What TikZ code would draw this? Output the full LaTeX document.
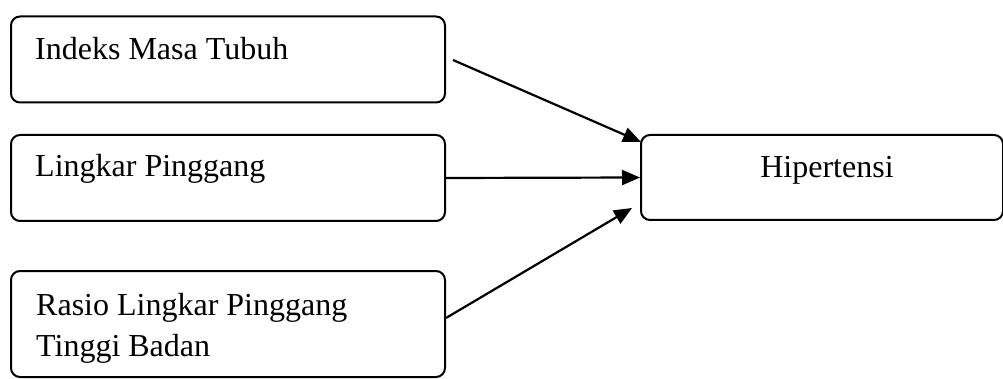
\documentclass[tikz,border=0pt]{standalone}
\usepackage{fontspec}
\setmainfont{Liberation Serif}
\usetikzlibrary{arrows.meta}
\begin{document}
\begin{tikzpicture}[x=1pt,y=-1pt,
  box/.style={draw=black, line width=2pt, rounded corners=9pt, inner sep=0pt},
  lbl/.style={anchor=base west, inner sep=0pt, font=\fontsize{32}{41}\selectfont},
  link/.style={draw=black, line width=2.2pt, -{Triangle[length=18pt,width=15pt]}}]
  \useasboundingbox (0,0) rectangle (1003,379);
  % source boxes
  \node[box, minimum width=434pt, minimum height=86pt] (imt) at (228,59.5) {};
  \node[box, minimum width=434pt, minimum height=86pt] (lp)  at (228,178) {};
  \node[box, minimum width=434pt, minimum height=106pt] (rlp) at (228,324) {};
  % outcome box
  \node[box, minimum width=362pt, minimum height=85pt] (hip) at (822,177.5) {};
  % labels
  \node[lbl] (timt) at (35,60) {Indeks Masa Tubuh};
  \node[lbl] (tlp)  at (35,177) {Lingkar Pinggang};
  \node[lbl] (trlp) at (36,315) {Rasio Lingkar Pinggang};
  \node[lbl] (trlp2) at (36,356) {Tinggi Badan};
  \node[anchor=base, inner sep=0pt, font=\fontsize{32}{41}\selectfont] (thip) at (827,178) {Hipertensi};
  % connectors
  \coordinate (s1) at (453,60);
  \coordinate (e1) at (641,142);
  \coordinate (e3) at (632,208);
  \draw[link] (s1) -- (e1);
  \draw[link] (lp.east) -- (hip.west);
  \draw[link] (rlp.east |- 0,318) -- (e3);
\end{tikzpicture}
\end{document}
